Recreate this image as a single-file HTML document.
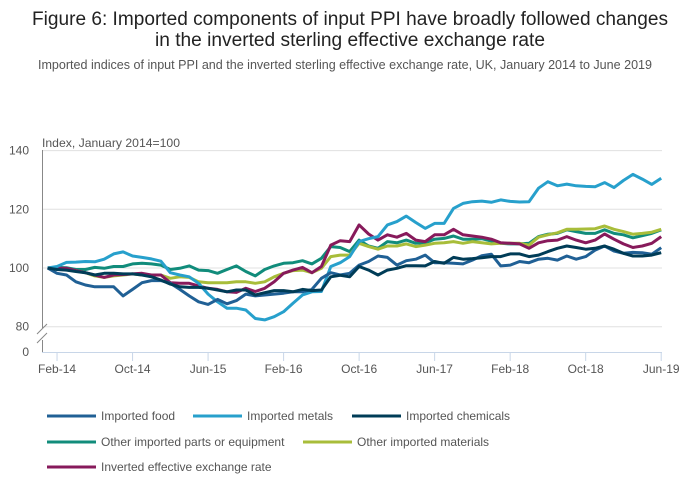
<!DOCTYPE html>
<html><head><meta charset="utf-8"><style>
html,body{margin:0;padding:0;background:#fff;}
svg{display:block;font-family:"Liberation Sans",sans-serif;}
</style></head><body>
<svg id="chart" width="700" height="502" viewBox="0 0 700 502" xmlns="http://www.w3.org/2000/svg">
<text x="350" y="25" text-anchor="middle" font-size="19" fill="#222" textLength="636" lengthAdjust="spacingAndGlyphs">Figure 6: Imported components of input PPI have broadly followed changes</text>
<text x="350" y="46" text-anchor="middle" font-size="19" fill="#222" textLength="390" lengthAdjust="spacingAndGlyphs">in the inverted sterling effective exchange rate</text>
<text x="345" y="69" text-anchor="middle" font-size="12.5" fill="#555" textLength="614" lengthAdjust="spacingAndGlyphs">Imported indices of input PPI and the inverted sterling effective exchange rate, UK, January 2014 to June 2019</text>
<text x="42" y="147" font-size="12" fill="#555" textLength="138" lengthAdjust="spacingAndGlyphs">Index, January 2014=100</text>
<g id="grid"></g>
<g id="axes"></g>
<g id="series"></g>
<g id="legend"></g>
</svg>
<script>
const yTicks = [80, 100, 120, 140];
const xTickLabels = ["Feb-14","Oct-14","Jun-15","Feb-16","Oct-16","Jun-17","Feb-18","Oct-18","Jun-19"];
const xTickIndex = [1, 9, 17, 25, 33, 41, 49, 57, 65];
const seriesNames = ["Imported food","Imported metals","Imported chemicals","Other imported parts or equipment","Other imported materials","Inverted effective exchange rate"];
const food = [100,98.2,97.6,95.3,94.2,93.6,93.6,93.6,90.5,92.7,95,95.7,95.7,94.8,92.7,90.5,88.5,87.6,89.3,87.8,88.9,91.1,90.5,
90.8,91.1,91.4,91.9,91.9,92.7,96.5,98.4,97.6,98.2,101,102.2,104.1,103.6,101,102.5,103,104.4,101.8,101.8,
101.6,101.4,102.7,104.2,104.7,100.7,101,102.2,101.8,103,103.3,102.7,104.1,103,103.9,106.1,107.5,105.8,105,105.3,105.2,104.7,106.9];
const metals = [100,100.5,101.9,102,102.2,102.1,103,104.8,105.5,104.1,103.6,103.1,102.3,98.4,97.6,97,94.8,91.1,88.5,86.3,86.3,85.7,82.8,
82.3,83.4,85.1,88,90.8,91.9,92,100.5,101.8,103.9,109,110,110.7,114.7,115.8,117.7,115.5,113.5,115.2,115.2,
120.3,122,122.6,122.8,122.4,123.2,122.7,122.5,122.6,127.2,129.4,128,128.6,128,127.8,127.7,129.1,127.4,129.8,131.9,130.3,128.5,130.6];
const chemicals = [100,99.5,99.3,98.8,98.4,97.6,98.2,98.2,98,98,97.6,97,95.9,94.5,93.6,93.4,93.4,93.1,92.5,91.9,92.5,92.5,90.8,
91.6,92.3,92.3,91.9,92.7,92.3,92.5,97,97.5,97,100.5,99.3,97.6,99.3,99.9,100.8,100.8,100.7,102.2,101.6,
103.6,103,103.2,103.5,103.9,103.9,104.8,104.8,103.9,104.4,105.6,106.7,107.5,107,106.4,106.7,107.5,106.4,105,104.1,104.1,104.4,105.2];
const parts = [100,100.2,100.1,99.5,99.5,100.2,99.9,100.5,100.5,101.4,101.6,101.4,101,99.5,99.9,100.7,99.3,99.1,98.2,99.5,100.7,98.8,97.3,
99.5,100.7,101.6,101.8,102.5,101.4,103.3,107.3,107,105.6,109.5,107.5,106.7,109,108.6,109.5,108.4,108.6,109.8,110.1,
110.9,109.8,109.8,110,109.2,108.4,108.2,108.2,108.4,110.7,111.5,111.8,113,112.4,111.8,111.8,113,111.8,111.3,110.3,111,111.8,113];
const materials = [100,99.9,99.5,99.1,98.4,97.3,96.8,97.3,97.6,98,97.6,97.6,97.6,96.5,97,96.8,95.3,95,95,95,95.3,95.3,94.8,
95.3,97,98.2,99.1,99.3,98.4,99.9,103.9,104.4,104.4,108.4,107.3,106.4,107.5,107.5,108.2,107.3,107.8,108.4,108.6,
109,108.4,109,108.6,108.2,108.4,108.4,108.4,107.8,110.5,111.3,112,113.2,113.2,113.3,113.4,114.3,113.2,112.4,111.5,111.8,112.2,113.2];
const exchange = [100,99.9,99.9,99.1,98.4,97.6,96.8,97.6,97.8,98,98.2,97.6,97.6,95,94.8,94.8,93.9,93.1,92.7,91.9,91.7,93.1,92,
93.1,95.3,98.2,99.3,100.2,98.4,100.5,107.8,109.3,109,114.7,111.6,109.5,111.3,110.5,111.8,109.5,109,111.3,111.3,
113.2,111.3,110.9,110.5,109.8,108.6,108.4,108.2,106.7,108.6,109.3,109.5,110.7,109.5,108.6,109.5,111.6,109.8,108.2,107,107.5,108.4,110.7];

const NS = "http://www.w3.org/2000/svg";
const x0 = 47.6, dx = 9.44;
function xs(i){ return x0 + dx * i; }
function ys(v){ return 268 - (v - 100) * 2.935; }
function mk(tag, parent, attrs){ const e = document.createElementNS(NS, tag); for (const k in attrs) e.setAttribute(k, attrs[k]); parent.appendChild(e); return e; }

const grid = document.getElementById('grid');
const axes = document.getElementById('axes');
yTicks.forEach(v => {
  const l = mk('line', grid, {x1:42, x2:662, y1:ys(v), y2:ys(v), stroke:'#e0e0e0', 'stroke-width':1});
  
  
  const t = mk('text', axes, {x:29, y:ys(v)+4, 'text-anchor':'end', 'font-size':12, fill:'#555'});
  t.textContent = v;
  
  
});
const z = mk('text', axes, {x:29, y:356, 'text-anchor':'end', 'font-size':12, fill:'#555'});
z.textContent = '0';


const ya = mk('path', axes, {d:'M42.5 150 V328 M42.5 340 V352', stroke:'#888', 'stroke-width':1, fill:'none'});


const br = mk('path', axes, {d:'M37 334 L47 324 M37 343 L47 333', stroke:'#888', 'stroke-width':1, fill:'none'});


const xa = mk('line', axes, {x1:42, x2:662, y1:352.5, y2:352.5, stroke:'#c8d6e8', 'stroke-width':1});


xTickIndex.forEach((idx, k) => {
  const tk = mk('line', axes, {x1:xs(idx), x2:xs(idx), y1:352, y2:361, stroke:'#c8d6e8', 'stroke-width':1});
  
  
  const t = mk('text', axes, {x:xs(idx), y:373, 'text-anchor':'middle', 'font-size':12, fill:'#555'});
  t.textContent = xTickLabels[k];
  
  
});

const seriesData = [food, metals, chemicals, parts, materials, exchange];
const colors = ['#206095','#27a0cc','#003c57','#118c7b','#a8bd3a','#871a5b'];
const order = [3,4,5,1,0,2];
const sg = document.getElementById('series');
order.forEach(s => {
  const d = seriesData[s].map((v,i) => (i ? 'L' : 'M') + xs(i).toFixed(1) + ' ' + ys(v).toFixed(1)).join(' ');
  const p = mk('path', sg, {d:d, stroke:colors[s], 'stroke-width':3, fill:'none', 'stroke-linejoin':'round'});
  
  
});

const lg = document.getElementById('legend');
const legPos = [[47,416],[193,416],[352,416],[47,442],[303,442],[47,467]];
seriesNames.forEach((n, s) => {
  const [lx, ly] = legPos[s];
  const g = mk('g', lg, {});
  
  
  mk('line', g, {x1:lx, x2:lx+49, y1:ly, y2:ly, stroke:colors[s], 'stroke-width':3});
  const t = mk('text', g, {x:lx+54, y:ly+4, 'font-size':12, fill:'#555'});
  t.textContent = n;
});
</script>
</body></html>
